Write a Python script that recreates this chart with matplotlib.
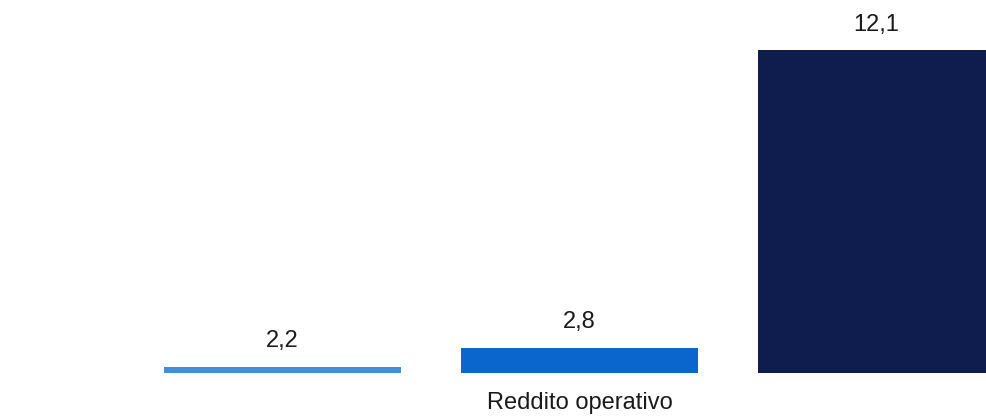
import matplotlib
matplotlib.use("Agg")
import matplotlib.pyplot as plt

plt.rcParams['font.family'] = ['Liberation Sans', 'DejaVu Sans']

category = "Reddito operativo"
series_values = [2.2, 2.8, 12.1]
value_labels = ["2,2", "2,8", "12,1"]
bar_colors = ["#3f8fdb", "#0a66cc", "#0f1d4e"]

fig = plt.figure(figsize=(9.87, 4.18), dpi=100)
ax = fig.add_axes([0, 45/418, 1, 373/418])

x = [0, 1, 2]
bars = ax.bar(x, series_values, width=0.8, color=bar_colors, bottom=0)
ax.set_xlim(-0.951, 2.372)
ax.set_ylim(2.01, 2.01 + 373/32.0)

for b, lab in zip(bars, value_labels):
    ax.annotate(lab, (b.get_x() + b.get_width()/2, b.get_height()),
                xytext=(0, 10.5), textcoords="offset points",
                ha="center", va="bottom", fontsize=17, color="#1a1a1a")

ax.text(1, -0.052, category, transform=ax.get_xaxis_transform(),
        ha="center", va="top", fontsize=17, color="#1a1a1a")

ax.axis("off")
fig.savefig("out.png", dpi=100)
